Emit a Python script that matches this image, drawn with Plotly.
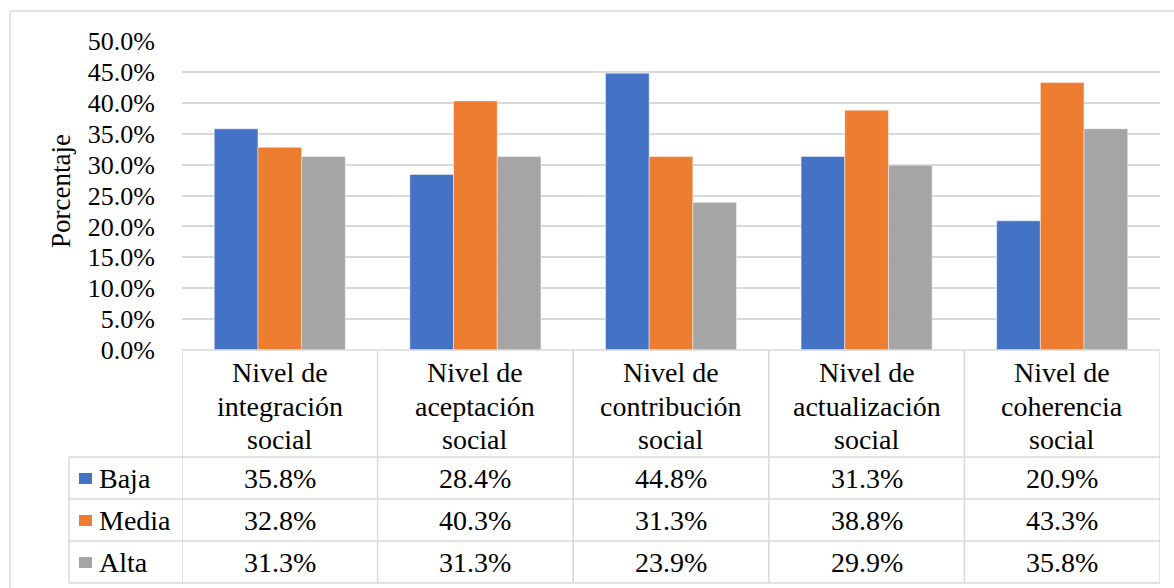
import plotly.graph_objects as go

# ---- data ----
categories = [
    ["Nivel de", "integración", "social"],
    ["Nivel de", "aceptación", "social"],
    ["Nivel de", "contribución", "social"],
    ["Nivel de", "actualización", "social"],
    ["Nivel de", "coherencia", "social"],
]
series_names = ["Baja", "Media", "Alta"]
baja = [35.8, 28.4, 44.8, 31.3, 20.9]
media = [32.8, 40.3, 31.3, 38.8, 43.3]
alta = [31.3, 31.3, 23.9, 29.9, 35.8]
y_tick_vals = [0, 5, 10, 15, 20, 25, 30, 35, 40, 45, 50]
y_tick_text = [f"{v:.1f}%" for v in y_tick_vals]
y_title = "Porcentaje"

# ---- style ----
colors = ["#4472C4", "#ED7D31", "#A5A5A5"]
FONT = "Liberation Serif"
GRID = "#D9D9D9"
W, H = 1174, 588

def px(x):
    return x / W

def py(y):
    return (H - y) / H

plot_left, plot_right = 182, 1160
plot_top, plot_bottom = 41, 350
row_lines = [457, 499, 541, 583]
legend_left = 69
header_line_centers = [372, 406, 440]

series = [baja, media, alta]
xs = list(range(len(categories)))

fig = go.Figure()
for name, vals, col in zip(series_names, series, colors):
    fig.add_trace(go.Bar(
        x=xs, y=vals, name=name,
        marker=dict(color=col, line=dict(color="rgba(255,255,255,0.45)", width=1)),
        showlegend=False,
    ))

shapes = []
line_style = dict(color=GRID, width=1.5)
# outer chart border (left and top)
shapes.append(dict(type="line", xref="paper", yref="paper",
                   x0=px(10), x1=px(10), y0=py(11), y1=0, line=line_style))
shapes.append(dict(type="line", xref="paper", yref="paper",
                   x0=px(10), x1=1, y0=py(11), y1=py(11), line=line_style))
# table vertical lines at category boundaries
for i in range(len(categories) + 1):
    shapes.append(dict(type="line", xref="x", yref="paper",
                       x0=i - 0.5, x1=i - 0.5, y0=py(plot_bottom), y1=py(row_lines[-1]),
                       line=line_style))
# legend column left line
shapes.append(dict(type="line", xref="paper", yref="paper",
                   x0=px(legend_left), x1=px(legend_left),
                   y0=py(row_lines[0]), y1=py(row_lines[-1]), line=line_style))
# table top line (axis)
shapes.append(dict(type="line", xref="x", yref="paper",
                   x0=-0.5, x1=len(categories) - 0.5,
                   y0=py(plot_bottom), y1=py(plot_bottom), line=line_style))
# table row lines
for r in row_lines:
    shapes.append(dict(type="line", xref="paper", yref="paper",
                       x0=px(legend_left), x1=px(plot_right),
                       y0=py(r), y1=py(r), line=line_style))

annotations = []
# header category labels (one annotation per line for tight spacing)
for i, lines in enumerate(categories):
    for txt, yc in zip(lines, header_line_centers):
        annotations.append(dict(x=i, xref="x", y=py(yc), yref="paper",
                                text=txt, showarrow=False, xanchor="center", yanchor="middle",
                                font=dict(family=FONT, size=28, color="black")))
# value rows + legend keys
for r, (name, vals, col) in enumerate(zip(series_names, series, colors)):
    yc = (row_lines[r] + row_lines[r + 1]) / 2
    for i, v in enumerate(vals):
        annotations.append(dict(x=i, xref="x", y=py(yc), yref="paper",
                                text=f"{v:.1f}%", showarrow=False,
                                xanchor="center", yanchor="middle",
                                font=dict(family=FONT, size=28, color="black")))
    shapes.append(dict(type="rect", xref="paper", yref="paper",
                       x0=px(79), x1=px(92), y0=py(yc - 5), y1=py(yc + 6),
                       fillcolor=col, line=dict(width=0)))
    annotations.append(dict(x=px(97), xref="paper", y=py(yc), yref="paper",
                            text=name, showarrow=False, xanchor="left", yanchor="middle",
                            font=dict(family=FONT, size=28, color="black")))
# y-axis title
annotations.append(dict(x=px(61), xref="paper", y=py(191), yref="paper",
                        text=y_title, showarrow=False, textangle=-90,
                        xanchor="center", yanchor="middle",
                        font=dict(family=FONT, size=27, color="black")))

fig.update_layout(
    width=W, height=H, autosize=False,
    margin=dict(l=0, r=0, t=0, b=0, pad=0, autoexpand=False),
    paper_bgcolor="white", plot_bgcolor="white",
    barmode="group", bargap=0.33, bargroupgap=0,
    shapes=shapes, annotations=annotations,
    xaxis=dict(domain=[px(plot_left), px(plot_right)], range=[-0.5, len(categories) - 0.5],
               showticklabels=False, showgrid=False, zeroline=False, showline=False,
               automargin=False, fixedrange=True),
    yaxis=dict(domain=[py(plot_bottom), py(plot_top)], range=[0, 50],
               tickvals=y_tick_vals, ticktext=y_tick_text,
               showgrid=True, gridcolor=GRID, gridwidth=1.5, zeroline=False,
               showline=False, ticks="", ticklabelstandoff=26, automargin=False,
               tickfont=dict(family=FONT, size=26, color="black"), fixedrange=True),
)

fig.write_html(
    "out.html",
    config={"displayModeBar": False},
    post_script="document.body.style.margin='0';document.body.style.overflow='hidden';",
)
